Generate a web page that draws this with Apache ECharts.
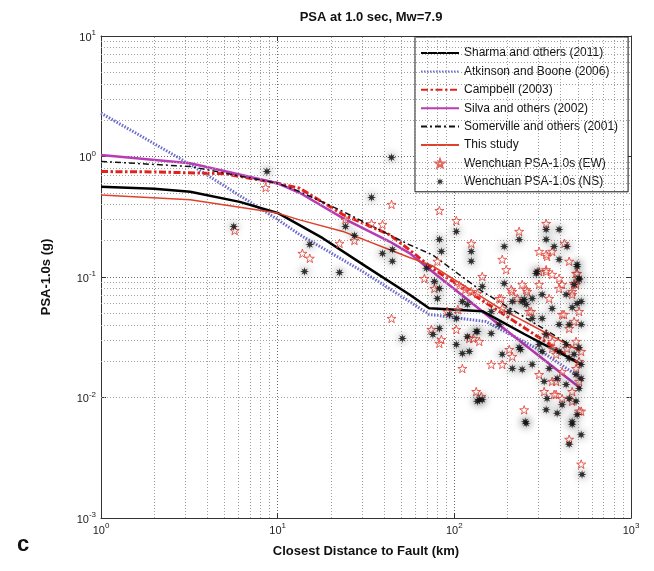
<!DOCTYPE html>
<html><head><meta charset="utf-8">
<script src="https://cdn.jsdelivr.net/npm/echarts@6/dist/echarts.min.js"></script>
<style>html,body{margin:0;padding:0;background:#fff}#c{width:654px;height:571px}</style>
</head><body><div id="c"></div>
<script>
// ---------- data ----------
const xTicks = [1, 10, 100, 1000];
const yTicks = [0.001, 0.01, 0.1, 1, 10];

const sharma = [[1,0.56],[2,0.54],[3.2,0.51],[6.1,0.42],[10,0.34],[18,0.21],[31.7,0.122],[55.7,0.0716],[72,0.055],[144,0.052],[250,0.0335],[520,0.019]];
const atkinson = [[1,2.29],[3.2,0.86],[10,0.30],[13.3,0.225],[30,0.112],[55.7,0.0626],[72,0.0489],[151,0.0427],[300,0.025],[520,0.0145]];
const campbell = [[1,0.75],[2,0.745],[5,0.72],[10,0.60],[13.3,0.546],[23.4,0.33],[43,0.224],[55.7,0.168],[75,0.118],[180,0.0517],[520,0.0187]];
const silva = [[1,1.03],[3.2,0.88],[10,0.60],[13.3,0.50],[23.4,0.308],[43,0.197],[55.7,0.158],[75,0.111],[180,0.040],[520,0.0119]];
const somerville = [[1,0.91],[3.2,0.826],[10,0.60],[13.3,0.512],[23.4,0.35],[55.7,0.185],[75,0.153],[144,0.0758],[520,0.0241]];
const thisStudy = [[1,0.48],[3.2,0.437],[10,0.339],[13.3,0.298],[23.4,0.239],[55.7,0.145],[75,0.124],[180,0.0551],[520,0.0241]];

const ewPoints = [[5.71,0.243],[8.55,0.553],[13.8,0.157],[15.2,0.143],[22.4,0.19],[24.2,0.3],[27.2,0.201],[34,0.278],[39.2,0.273],[44.1,0.4],
[44.1,0.0453],[67.7,0.0972],[80.2,0.135],[82.3,0.356],[102.6,0.294],[124.7,0.19],[143.9,0.101],[186.7,0.14],[196.6,0.115],[232.8,0.239],
[330.9,0.278],[302,0.163],[335,0.148],[330.9,0.115],[357.8,0.105],[391.7,0.0972],[488.7,0.107],[74.1,0.0367],[82.3,0.0281],[84.5,0.0303],
[102.6,0.0367],[111,0.0174],[128,0.0309],[138.4,0.0292],[133,0.0112],[142.1,0.0102],[161.8,0.0188],[186.7,0.0188],[204.6,0.025],[212.8,0.0219],
[248.5,0.0079],[212.8,0.0758],[227,0.0663],[255.2,0.0788],[179.6,0.0663],[265.2,0.0517],[186.7,0.0548],[302,0.0867],[344.2,0.0663],[407.4,0.0867],
[464.5,0.0758],[407.4,0.0489],[476.4,0.0428],[330.9,0.0333],[357.8,0.0255],[434.5,0.0255],[522.4,0.0241],[488.7,0.0174],[302,0.0155],[357.8,0.0136],
[376.8,0.0106],[407.4,0.0098],[464.5,0.0112],[522.4,0.0077],[446.7,0.0045],[522.4,0.0028],[322.4,0.0112],[508.3,0.0136],[357.8,0.163],[446.7,0.135],
[488.7,0.0867],[106.7,0.085],[115.4,0.0788],[124.7,0.0758],[134.9,0.073],[420,0.19],[330.9,0.154],[391.7,0.0803],[464.5,0.0716],[508.3,0.0517],
[418,0.0489],[446.7,0.0374],[357.8,0.0292],[488.7,0.0292],[376.8,0.0228],[508.3,0.0199],[407.4,0.0164],[376.8,0.0136],[367.3,0.0106],[464.5,0.0093],
[508.3,0.0077],[91.3,0.0517],[104.7,0.0537],[77.1,0.0803],[210,0.0788],[242.1,0.0867],[258.4,0.0758],[272.3,0.0517],[184.4,0.0663],[121.5,0.0309],
[330.9,0.111],[495.5,0.107],[476.4,0.0883],[302,0.111]];

const nsPoints = [[5.64,0.262],[8.7,0.751],[15.2,0.186],[14.2,0.111],[22.4,0.109],[24.2,0.262],[27.2,0.221],[34,0.457],[39.2,0.157],[44.6,0.169],
[44.6,0.135],[44.1,0.981],[50.8,0.0309],[69.5,0.118],[77.1,0.0918],[82.3,0.0803],[80.2,0.0663],[82.3,0.205],[84.5,0.163],[102.6,0.239],
[124.7,0.163],[124.7,0.135],[143.9,0.0834],[191.6,0.179],[191.6,0.0883],[232.8,0.205],[330.9,0.248],[330.9,0.205],[391.7,0.248],[434.5,0.179],
[391.7,0.14],[290.6,0.107],[495.5,0.122],[508.3,0.0972],[75.6,0.0333],[102.6,0.0275],[111,0.0232],[118.4,0.032],[133,0.0353],[121.5,0.0241],
[102.6,0.0453],[93.7,0.0489],[111,0.0626],[118.4,0.0591],[138.4,0.0096],[134.9,0.0093],[212.8,0.0174],[161.8,0.034],[179.6,0.0404],[186.7,0.0228],
[237,0.025],[242.1,0.0171],[255.2,0.0061],[248.5,0.0651],[204.6,0.0517],[275.9,0.0453],[314.1,0.0716],[357.8,0.0548],[429.5,0.0716],[495.5,0.0603],
[446.7,0.0404],[522.4,0.0404],[302,0.0275],[391.7,0.0241],[476.4,0.0228],[522.4,0.0188],[275.9,0.0188],[322.4,0.0136],[382,0.0144],[335,0.0098],
[407.4,0.0087],[488.7,0.0093],[495.5,0.0072],[382,0.0074],[464.5,0.006],[446.7,0.0041],[522.4,0.0049],[528.4,0.0023],[330.9,0.0079],[508.3,0.026],
[522.4,0.0144],[429.5,0.0128],[275.9,0.0663],[255.2,0.0591],[161.8,0.0517],[476.4,0.0867],[495.5,0.127],[508.3,0.0953],[522.4,0.0626],[464.5,0.0558],
[391.7,0.0404],[314.1,0.0453],[330.9,0.0333],[429.5,0.0275],[314.1,0.0241],[446.7,0.0211],[344.2,0.0174],[488.7,0.0155],[508.3,0.0119],[446.7,0.0098],
[464.5,0.0063],[367.3,0.179],[212.8,0.0626],[242.1,0.0626],[232.8,0.026],[294.4,0.111],[143.9,0.0096],[134.9,0.0353],[82.3,0.0374],[252,0.0063]];

const names = ['Sharma and others (2011)','Atkinson and Boone (2006)','Campbell (2003)','Silva and others (2002)','Somerville and others (2001)','This study','Wenchuan PSA-1.0s (EW)','Wenchuan PSA-1.0s (NS)'];

// ---------- minor grid positions ----------
const minorX = [], minorY = [];
for (let d = 0; d < 3; d++) for (let k = 2; k <= 9; k++) minorX.push(k * Math.pow(10, d));
for (let d = -3; d < 1; d++) for (let k = 2; k <= 9; k++) minorY.push(+(k * Math.pow(10, d)).toPrecision(3));

const FONT = '"Liberation Sans", Arial, sans-serif';
const starPath = 'path://M0,-10 L2.35,-3.24 L9.51,-3.09 L3.8,1.24 L5.88,8.09 L0,4 L-5.88,8.09 L-3.8,1.24 L-9.51,-3.09 L-2.35,-3.24 Z';
const astPath = 'path://M0,-10 L1.6,-3.9 L7,-7 L3.9,-1.6 L10,0 L3.9,1.6 L7,7 L1.6,3.9 L0,10 L-1.6,3.9 L-7,7 L-3.9,1.6 L-10,0 L-3.9,-1.6 L-7,-7 L-1.6,-3.9 Z';

function expLabel(v) {
  const e = Math.round(Math.log10(v));
  return '{b|10}{s|' + e + '}';
}
const richLab = {
  b: { fontSize: 11, color: '#222', fontFamily: FONT, verticalAlign: 'bottom', lineHeight: 14 },
  s: { fontSize: 8, color: '#222', fontFamily: FONT, verticalAlign: 'top', lineHeight: 9 }
};

const gridLineMajor = { show: true, lineStyle: { color: '#6a6a6a', type: [1, 2], width: 1 } };

function lineSeries(name, data, color, width, type, z) {
  return { name, type: 'line', data, showSymbol: false, symbol: 'circle', symbolSize: 0, z: z || 3,
    lineStyle: { color, width, type }, itemStyle: { color }, silent: true };
}

const hiddenSym = { opacity: 0, color: 'rgba(0,0,0,0)', borderColor: 'rgba(0,0,0,0)', borderWidth: 0 };

const option = {
  animation: false,
  backgroundColor: '#fff',
  title: { text: 'PSA at 1.0 sec, Mw=7.9', left: 366, top: 6, textAlign: 'center',
    textStyle: { fontFamily: FONT, fontSize: 13, fontWeight: 'bold', color: '#111' } },
  grid: { left: 101, right: 23, top: 36, bottom: 53 },
  legend: {
    data: names.map(n => n.startsWith('Wenchuan') ? { name: n } : { name: n, itemStyle: hiddenSym }),
    orient: 'vertical', left: 415, top: 37, width: 213,
    backgroundColor: '#fff', borderColor: '#111', borderWidth: 1,
    padding: [10, 10, 4, 5], itemWidth: 38, itemHeight: 8, itemGap: 6.4,
    textStyle: { fontFamily: FONT, fontSize: 12, color: '#111' }
  },
  xAxis: [{
    type: 'log', logBase: 10, min: 1, max: 1000,
    name: 'Closest Distance to Fault (km)', nameLocation: 'middle', nameGap: 27,
    nameTextStyle: { fontFamily: FONT, fontSize: 13, fontWeight: 'bold', color: '#111' },
    axisLine: { lineStyle: { color: '#333', width: 1 } },
    axisTick: { inside: true, length: 5, lineStyle: { color: '#333' } },
    axisLabel: { formatter: expLabel, rich: richLab, margin: 4 },
    splitLine: gridLineMajor
  }, {
    type: 'log', logBase: 10, min: 1, max: 1000, position: 'top',
    axisLine: { lineStyle: { color: '#333', width: 1 } },
    axisTick: { inside: true, length: 5, lineStyle: { color: '#333' } },
    axisLabel: { show: false }, splitLine: { show: false }
  }],
  yAxis: [{
    type: 'log', logBase: 10, min: 0.001, max: 10,
    name: 'PSA-1.0s (g)', nameLocation: 'middle', nameGap: 48,
    nameTextStyle: { fontFamily: FONT, fontSize: 13, fontWeight: 'bold', color: '#111' },
    axisLine: { show: true, lineStyle: { color: '#333', width: 1 } },
    axisTick: { show: true, inside: true, length: 5, lineStyle: { color: '#333' } },
    axisLabel: { formatter: expLabel, rich: richLab, margin: 5 },
    splitLine: gridLineMajor
  }, {
    type: 'log', logBase: 10, min: 0.001, max: 10, position: 'right',
    axisLine: { show: true, lineStyle: { color: '#333', width: 1 } },
    axisTick: { show: true, inside: true, length: 5, lineStyle: { color: '#333' } },
    axisLabel: { show: false }, splitLine: { show: false }
  }],
  series: [
    { name: '_grid', type: 'line', data: [[1, 1]], symbol: 'none', lineStyle: { opacity: 0 }, z: 1, silent: true,
      markLine: { silent: true, symbol: 'none', label: { show: false },
        lineStyle: { color: '#a0a0a0', type: [1, 2], width: 1 },
        data: minorX.map(v => ({ xAxis: v })).concat(minorY.map(v => ({ yAxis: v }))) } },
    lineSeries(names[0], sharma, '#000', 2.5, 'solid', 5),
    lineSeries(names[1], atkinson, '#6b6bd0', 3, [1.5, 1.5], 4),
    lineSeries(names[2], campbell, '#e3211c', 3, [7, 2.5, 2.5, 2.5], 4),
    lineSeries(names[3], silva, '#b93bb5', 2.5, 'solid', 4),
    lineSeries(names[4], somerville, '#111', 1.5, [6, 3, 2, 3], 5),
    lineSeries(names[5], thisStudy, '#e0412d', 1.5, 'solid', 5),
    { name: names[6], type: 'scatter', data: ewPoints, symbol: starPath, symbolSize: 9, symbolKeepAspect: true, z: 6,
      itemStyle: { color: 'rgba(255,255,255,0.5)', borderColor: '#e3392f', borderWidth: 1 } },
    { name: names[7], type: 'scatter', data: nsPoints, symbol: astPath, symbolSize: 9, symbolKeepAspect: true, z: 6,
      itemStyle: { color: '#111', shadowBlur: 9, shadowColor: 'rgba(0,0,0,0.75)', opacity: 0.85 } }
  ],
  graphic: [{ type: 'text', left: 17, top: 534, style: { text: 'c', font: 'bold 22px ' + FONT, fill: '#111' } }]
};

const chart = echarts.init(document.getElementById('c'), null, { renderer: 'canvas' });
chart.setOption(option);
</script></body></html>
